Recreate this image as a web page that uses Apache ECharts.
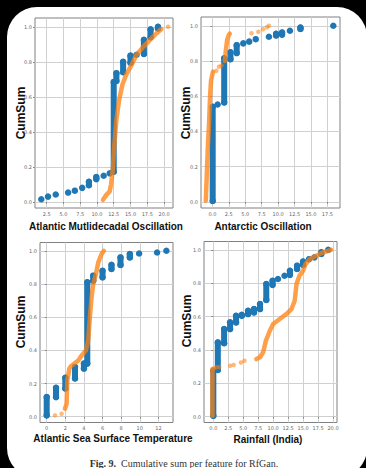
<!DOCTYPE html>
<html>
<head>
<meta charset="utf-8">
<script src="https://cdn.jsdelivr.net/npm/echarts@6/dist/echarts.min.js"></script>
<style>
html, body { margin: 0; padding: 0; background: #000; }
#chart { width: 366px; height: 468px; }
</style>
</head>
<body>
<div id="chart"></div>
<script>
// tick values
const yTicks = [0, 0.2, 0.4, 0.6, 0.8, 1.0]
const amoTicks = [2.5, 5, 7.5, 10, 12.5, 15, 17.5, 20]
const aaoTicks = [0, 2.5, 5, 7.5, 10, 12.5, 15, 17.5]
const sstTicks = [0, 2, 4, 6, 8, 10, 12]
const rainTicks = [0, 2.5, 5, 7.5, 10, 12.5, 15, 17.5, 20]

// blue (real) points: [x, cumsum low, cumsum high] — one stack per distinct value
const amoBlue = [
  [1.7, 0.015, 0.015], [2.7, 0.03, 0.03], [3.85, 0.042, 0.042], [5.7, 0.053, 0.053],
  [6.7, 0.064, 0.064], [7.8, 0.08, 0.08], [8.8, 0.095, 0.115], [9.9, 0.13, 0.142],
  [11.0, 0.149, 0.149], [11.9, 0.163, 0.163], [12.5, 0.172, 0.685], [12.9, 0.69, 0.735],
  [13.9, 0.74, 0.8], [15.0, 0.795, 0.835], [15.9, 0.84, 0.84], [17.0, 0.845, 0.925],
  [18.0, 0.94, 0.985], [19.1, 0.99, 1.0]
]
const aaoBlue = [
  [0.05, 0.005, 0.54], [0.8, 0.553, 0.553], [1.8, 0.565, 0.815], [2.75, 0.81, 0.85],
  [3.7, 0.845, 0.89], [4.7, 0.9, 0.9], [5.6, 0.91, 0.91], [6.6, 0.924, 0.924],
  [8.6, 0.938, 0.938], [9.7, 0.945, 0.955], [10.6, 0.95, 0.962], [11.8, 0.972, 0.972],
  [13.4, 0.982, 0.99], [18.4, 1.0, 1.0]
]
const sstBlue = [
  [0, 0.008, 0.118], [1.0, 0.118, 0.174], [2.0, 0.17, 0.234], [3.04, 0.23, 0.3],
  [4.0, 0.29, 0.32], [4.36, 0.32, 0.81], [5.0, 0.82, 0.85], [6.0, 0.84, 0.88],
  [6.96, 0.89, 0.915], [7.93, 0.915, 0.96], [8.93, 0.96, 0.98], [9.93, 0.984, 0.984],
  [11.86, 0.99, 0.99], [12.86, 1.0, 1.0]
]
const rainBlue = [
  [0, 0.005, 0.275], [0.75, 0.28, 0.445], [1.8, 0.44, 0.525], [2.8, 0.525, 0.565],
  [3.8, 0.565, 0.605], [4.75, 0.605, 0.61], [5.8, 0.615, 0.635], [6.8, 0.625, 0.645],
  [7.8, 0.645, 0.675], [8.85, 0.7, 0.795], [9.9, 0.79, 0.815], [10.8, 0.825, 0.825],
  [11.9, 0.845, 0.845], [12.8, 0.85, 0.875], [14.0, 0.885, 0.905], [15.0, 0.91, 0.93],
  [16.0, 0.944, 0.944], [16.9, 0.955, 0.955], [18.05, 0.975, 0.985], [19.2, 1.0, 1.0]
]

// orange (generated) points: dense runs drawn as curves, sparse ones as dots
const amoOrange = [[
  [10.9, 0.012], [11.4, 0.04], [11.9, 0.06], [12.1, 0.1], [12.35, 0.18], [12.6, 0.33],
  [12.9, 0.47], [13.3, 0.58], [13.8, 0.67], [14.4, 0.73], [15.2, 0.785], [15.9, 0.84],
  [16.9, 0.885], [17.9, 0.925], [18.9, 0.963], [19.6, 0.987]
]]
const amoOrangeDots = [[20.6, 1.0]]

const aaoOrange = [
  [[-1.0, 0.006], [-0.85, 0.15], [-0.7, 0.3], [-0.5, 0.45], [-0.35, 0.6], [-0.2, 0.69], [0.1, 0.74]],
  [[1.9, 0.8], [2.05, 0.86], [2.25, 0.92], [2.5, 0.948], [2.65, 0.955]]
]
const aaoOrangeDots = [
  [0.6, 0.745], [1.0, 0.767], [1.4, 0.775], [5.95, 0.958], [7.0, 0.966],
  [7.7, 0.98], [8.3, 0.992], [8.6, 1.0]
]

const sstOrange = [[
  [1.96, 0.048], [2.14, 0.078], [2.21, 0.218], [2.43, 0.289], [2.57, 0.302], [3.39, 0.339],
  [3.75, 0.369], [4.21, 0.399], [4.46, 0.459], [4.64, 0.6], [4.82, 0.72], [5.0, 0.8],
  [5.29, 0.86], [5.54, 0.93], [5.89, 0.98], [6.14, 1.0]
]]
const sstOrangeDots = [[0.89, 0.008], [1.6, 0.018]]

const rainOrange = [
  [[-0.15, 0.005], [-0.15, 0.285]],
  [[7.2, 0.345], [7.8, 0.356], [8.33, 0.386], [8.78, 0.455], [9.44, 0.515], [10.0, 0.555],
   [11.1, 0.585], [12.2, 0.615], [13.06, 0.645], [13.6, 0.695], [13.9, 0.795], [14.4, 0.845],
   [15.0, 0.874], [15.4, 0.914], [16.1, 0.944], [17.2, 0.964], [18.3, 0.984], [19.7, 1.0]]
]
const rainOrangeDots = [
  [0.1, 0.29], [0.5, 0.296], [1.0, 0.298], [2.8, 0.305], [3.4, 0.31],
  [4.6, 0.325], [5.2, 0.335]
]

const BLUE = '#1f77b4'
const ORANGE = '#ff7f0e'

const panels = [
  { blue: amoBlue, orange: amoOrange, dots: amoOrangeDots, ticks: amoTicks, digits: 1,
    grid: { left: 35, top: 18, width: 138, height: 190 }, xr: [0.76, 21.34] },
  { blue: aaoBlue, orange: aaoOrange, dots: aaoOrangeDots, ticks: aaoTicks, digits: 1,
    grid: { left: 201, top: 17, width: 139, height: 191 }, xr: [-1.73, 19.42] },
  { blue: sstBlue, orange: sstOrange, dots: sstOrangeDots, ticks: sstTicks, digits: 0,
    grid: { left: 40, top: 242.5, width: 133, height: 180 }, xr: [-0.72, 13.57] },
  { blue: rainBlue, orange: rainOrange, dots: rainOrangeDots, ticks: rainTicks, digits: 1,
    grid: { left: 204, top: 241.5, width: 133, height: 181 }, xr: [-1.56, 20.67] }
]

const tickFont = { fontSize: 5, color: '#666', fontFamily: 'DejaVu Sans' }

const renderStack = (params, api) => {
  const lo = api.coord([api.value(0), api.value(1)])
  const hi = api.coord([api.value(0), api.value(2)])
  return {
    type: 'line',
    shape: { x1: lo[0], y1: lo[1], x2: hi[0], y2: hi[1] },
    style: { stroke: BLUE, lineWidth: 6, lineCap: 'round' }
  }
}

const series = []
panels.forEach((p, i) => {
  series.push({
    type: 'custom', xAxisIndex: i, yAxisIndex: i, encode: { x: 0, y: [1, 2] },
    data: p.blue, renderItem: renderStack, silent: true
  })
  series.push({
    type: 'scatter', xAxisIndex: i, yAxisIndex: i, symbolSize: 6.5, silent: true,
    itemStyle: { color: BLUE, opacity: 1 },
    data: p.blue.flatMap(([x, a, b]) => (a === b ? [[x, a]] : [[x, a], [x, b]]))
  })
  p.orange.forEach((seg) => {
    series.push({
      type: 'line', xAxisIndex: i, yAxisIndex: i, data: seg, symbol: 'none', silent: true,
      lineStyle: { color: ORANGE, width: 4.5, opacity: 0.75, cap: 'round', join: 'round' }
    })
  })
  series.push({
    type: 'scatter', xAxisIndex: i, yAxisIndex: i, data: p.dots, symbolSize: 4.5, silent: true,
    itemStyle: { color: ORANGE, opacity: 0.55 }
  })
})

const sansBold = 'bold 10px "Liberation Sans", Arial, sans-serif'
const labelText = (text, x, y) => ({
  type: 'text', x, y,
  style: { text, font: sansBold, fill: '#111', align: 'center', verticalAlign: 'middle' }
})
const cumSum = (x, y) => ({
  type: 'text', x, y, rotation: Math.PI / 2,
  style: { text: 'CumSum', font: 'bold 12px "Liberation Sans", Arial, sans-serif', fill: '#111', align: 'center', verticalAlign: 'middle' }
})

const chart = echarts.init(document.getElementById('chart'), null, { renderer: 'svg' })
chart.setOption({
  animation: false,
  backgroundColor: '#000',
  grid: panels.map((p) => ({
    ...p.grid, show: true, borderColor: '#808080', borderWidth: 1,
    backgroundColor: 'transparent', containLabel: false, outerBoundsMode: 'none'
  })),
  xAxis: panels.map((p, i) => ({
    type: 'value', gridIndex: i, min: p.xr[0], max: p.xr[1],
    axisLine: { show: false },
    axisTick: { show: true, length: 2, lineStyle: { color: '#888' }, customValues: p.ticks },
    axisLabel: { ...tickFont, margin: 3, customValues: p.ticks, formatter: (v) => v.toFixed(p.digits) },
    splitLine: { show: true, lineStyle: { color: '#d0d0d0', width: 1 } }
  })),
  yAxis: panels.map((p, i) => ({
    type: 'value', gridIndex: i, min: -0.035, max: 1.05,
    axisLine: { show: false },
    axisTick: { show: true, length: 2, lineStyle: { color: '#888' }, customValues: yTicks },
    axisLabel: { ...tickFont, margin: 3, customValues: yTicks, formatter: (v) => v.toFixed(1) },
    splitLine: { show: true, lineStyle: { color: '#d0d0d0', width: 1 } }
  })),
  graphic: [
    { type: 'rect', z: -100, shape: { x: 7, y: 7, width: 360, height: 471, r: 30 }, style: { fill: '#fff' } },
    labelText('Atlantic Mutlidecadal Oscillation', 106, 226),
    labelText('Antarctic Oscillation', 263, 226),
    labelText('Atlantic Sea Surface Temperature', 113, 438.5),
    labelText('Rainfall (India)', 268, 439.5),
    cumSum(21, 113),
    cumSum(186, 113),
    cumSum(21, 322),
    cumSum(186.5, 321),
    {
      type: 'text', x: 184, y: 463,
      style: {
        text: '{b|Fig. 9.}  Cumulative sum per feature for RfGan.',
        font: '10px "Liberation Serif", "Times New Roman", serif',
        fill: '#333', align: 'center', verticalAlign: 'middle',
        rich: { b: { fontWeight: 'bold', fontSize: 10, fontFamily: '"Liberation Serif", serif', fill: '#333' } }
      }
    }
  ],
  series
})
</script>
</body>
</html>
